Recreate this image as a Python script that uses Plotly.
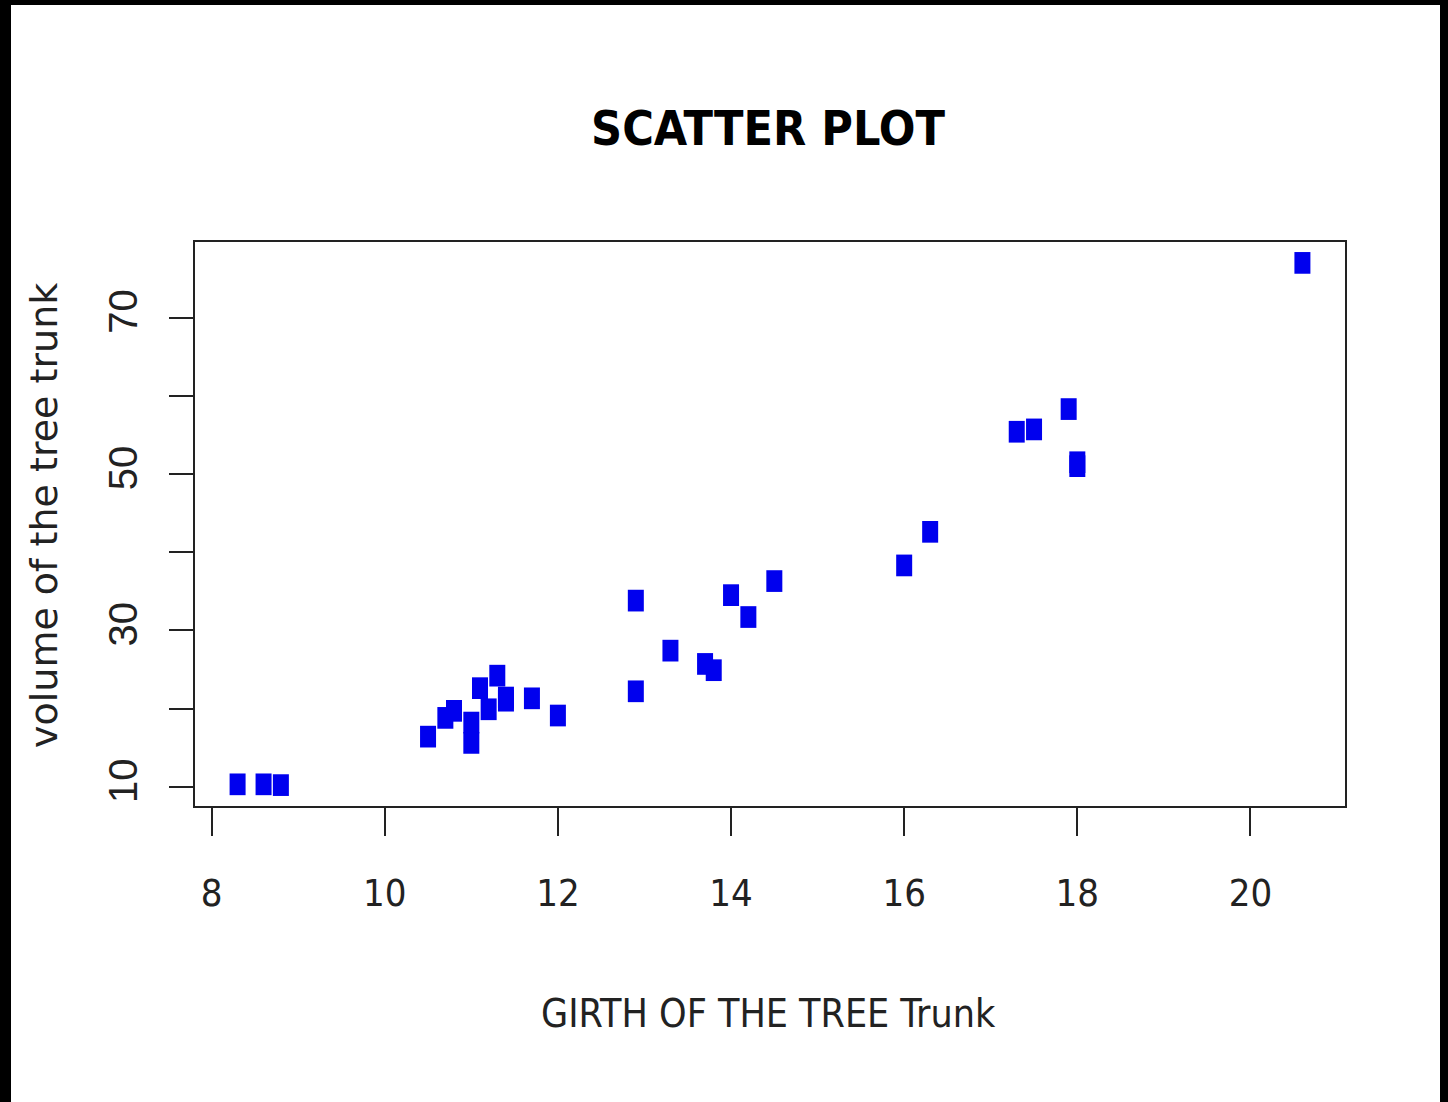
import plotly.graph_objects as go

# R "trees" data: girth vs volume
girth = [8.3, 8.6, 8.8, 10.5, 10.7, 10.8, 11.0, 11.0, 11.1, 11.2, 11.3,
         11.4, 11.4, 11.7, 12.0, 12.9, 12.9, 13.3, 13.7, 13.8, 14.0, 14.2,
         14.5, 16.0, 16.3, 17.3, 17.5, 17.9, 18.0, 18.0, 20.6]
volume = [10.3, 10.3, 10.2, 16.4, 18.8, 19.7, 15.6, 18.2, 22.6, 19.9, 24.2,
          21.0, 21.4, 21.3, 19.1, 22.2, 33.8, 27.4, 25.7, 24.9, 34.5, 31.7,
          36.3, 38.3, 42.6, 55.4, 55.7, 58.3, 51.5, 51.0, 77.0]

x_ticks = [8, 10, 12, 14, 16, 18, 20]
y_ticks = [10, 20, 30, 40, 50, 60, 70]
y_ticktext = ["10", "", "30", "", "50", "", "70"]

W, H = 1448, 1102
L, R, T, B = 195, 103, 242, 296
pw, ph = W - L - R, H - T - B

narrow = "Liberation Sans Narrow, DejaVu Sans Condensed, Arial Narrow, sans-serif"

fig = go.Figure()
fig.add_trace(go.Scatter(
    x=girth, y=volume, mode="markers",
    marker=dict(symbol="line-ns", size=15.5, color="#0000EE",
                line=dict(color="#0000EE", width=16)),
    hovertemplate="%{x}, %{y}<extra></extra>",
))

axis_common = dict(showline=True, linecolor="#222", linewidth=2, mirror=True,
                   showgrid=False, zeroline=False, ticks="outside",
                   tickcolor="#222", tickwidth=2)

fig.update_xaxes(range=[7.808, 21.092], tickvals=x_ticks, ticklen=28,
                 tickfont=dict(family=narrow, size=38, color="#222"),
                 ticklabelstandoff=24, **axis_common)
fig.update_yaxes(range=[7.528, 79.672], tickvals=y_ticks, ticktext=y_ticktext,
                 ticklen=24, tickangle=-90,
                 tickfont=dict(family="Liberation Sans, Arial, sans-serif", size=40, color="#222"),
                 ticklabelstandoff=16, **axis_common)

# black frame around the image edges
def px_rect(x0, y0, x1, y1):
    return dict(type="rect", xref="paper", yref="paper", layer="above",
                x0=(x0 - L) / pw, x1=(x1 - L) / pw,
                y0=(H - B - y0) / ph, y1=(H - B - y1) / ph,
                fillcolor="black", line=dict(width=0))

shapes = [px_rect(0, 0, 11, H), px_rect(0, 0, W, 5), px_rect(1440, 0, W, H)]

fig.update_layout(
    width=W, height=H,
    margin=dict(l=L, r=R, t=T, b=B),
    paper_bgcolor="white", plot_bgcolor="white",
    showlegend=False,
    title=dict(text="<b>SCATTER PLOT</b>", xref="container", yref="container",
               x=768 / W, y=1 - 128 / H, xanchor="center", yanchor="middle",
               font=dict(family=narrow, size=48, color="black")),
    shapes=shapes,
    annotations=[
        dict(text="GIRTH OF THE TREE Trunk", xref="paper", yref="paper",
             x=(768 - L) / pw, y=(H - B - 1013) / ph, showarrow=False,
             xanchor="center", yanchor="middle",
             font=dict(family=narrow, size=39, color="#222")),
        dict(text="volume of the tree trunk", xref="paper", yref="paper",
             x=(44 - L) / pw, y=(H - B - 516) / ph, showarrow=False,
             xanchor="center", yanchor="middle", textangle=-90,
             font=dict(family="DejaVu Sans, sans-serif", size=38, color="#222")),
    ],
)

fig.write_html("out.html", config={"displayModeBar": False},
               post_script="document.body.style.margin='0';")
